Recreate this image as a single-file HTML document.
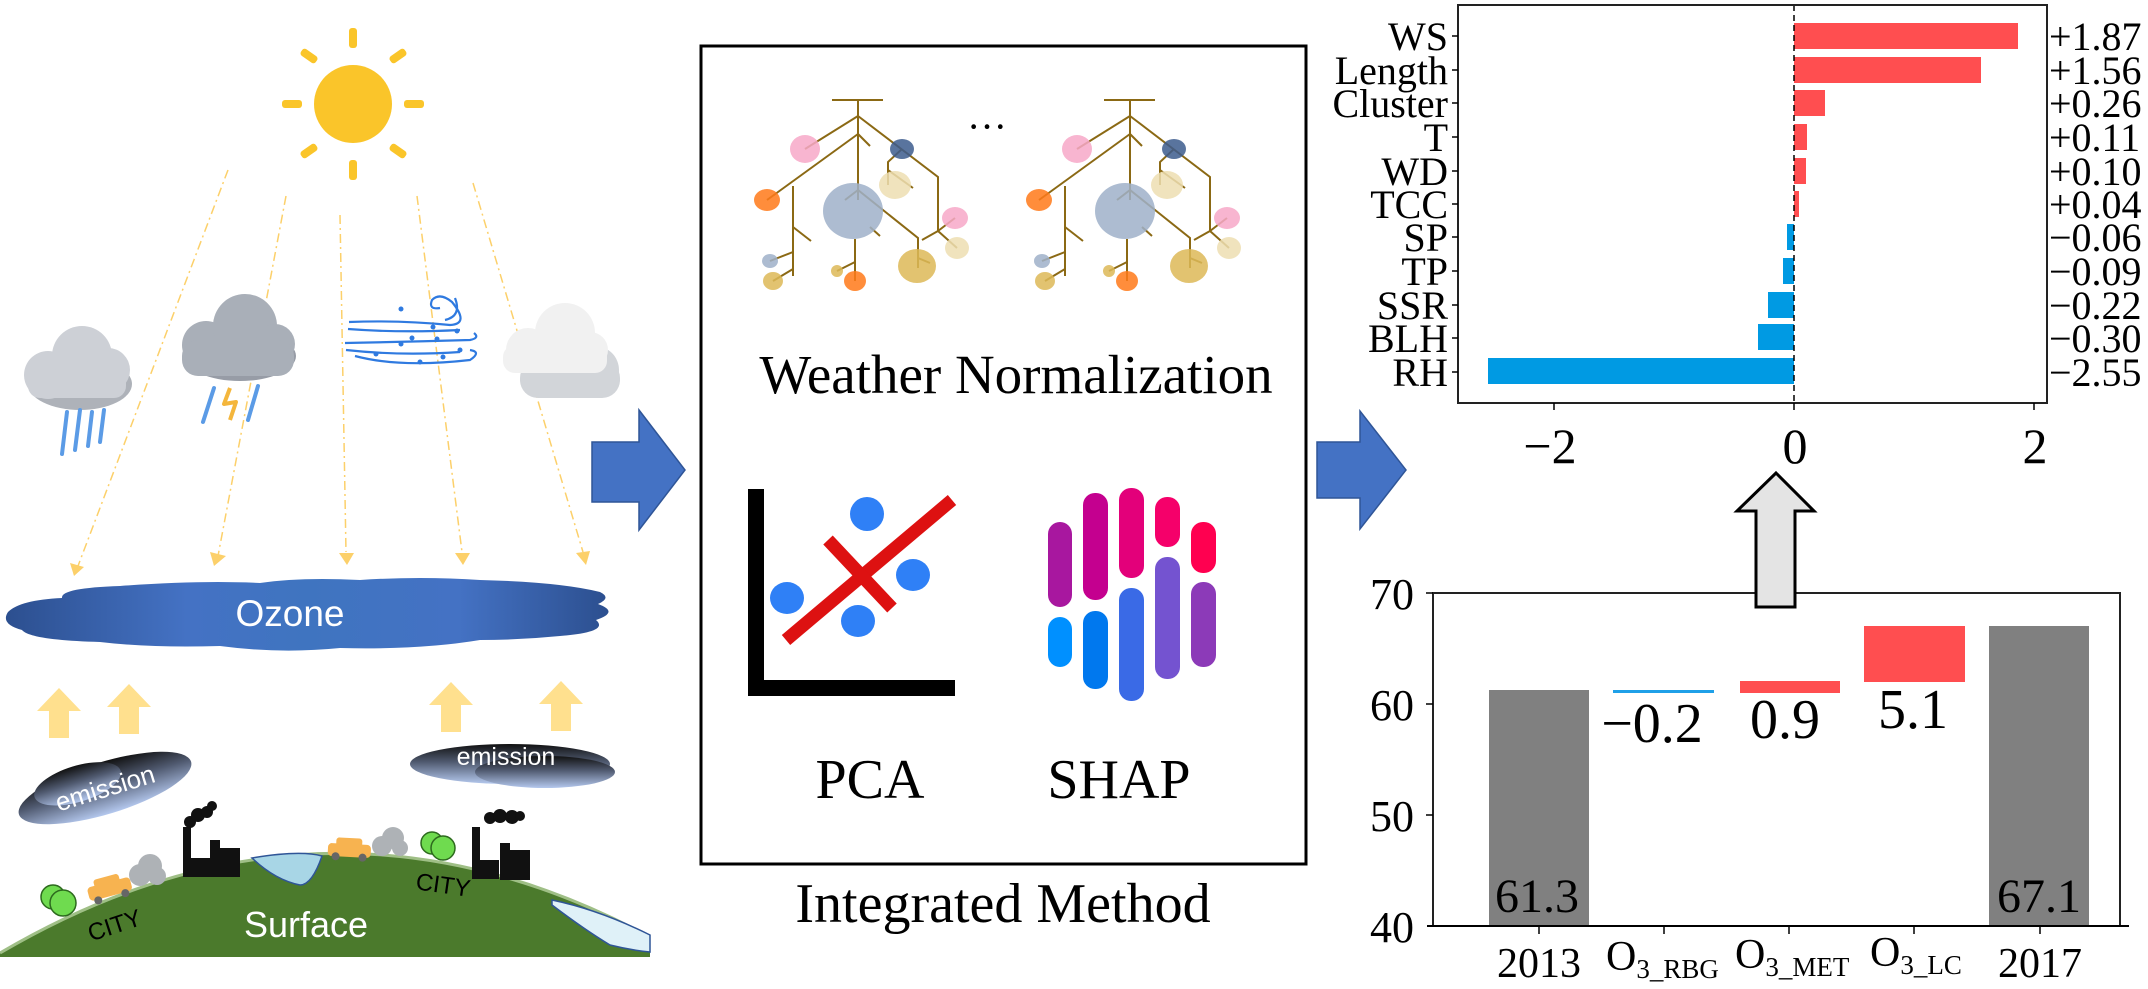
<!DOCTYPE html>
<html><head><meta charset="utf-8"><style>
html,body{margin:0;padding:0;background:#fff;}
svg{display:block;}
.s{font-family:"Liberation Serif",serif;fill:#000;}
.a{font-family:"Liberation Sans","DejaVu Sans",sans-serif;}
</style></head><body>
<svg width="2148" height="989" viewBox="0 0 2148 989" xmlns="http://www.w3.org/2000/svg">
<defs>
<linearGradient id="oz" x1="0" x2="1" y1="0" y2="0">
<stop offset="0" stop-color="#2c4f8f"/><stop offset="0.3" stop-color="#4472c4"/><stop offset="0.5" stop-color="#3f74c0"/><stop offset="0.75" stop-color="#4472c4"/><stop offset="1" stop-color="#2c4f8f"/></linearGradient>
<linearGradient id="em" x1="0" x2="0" y1="0" y2="1">
<stop offset="0" stop-color="#111"/><stop offset="0.45" stop-color="#505a70"/><stop offset="1" stop-color="#b4c8ee"/></linearGradient>
</defs>

<!-- sun -->
<g fill="#fac52a">
<circle cx="353" cy="104" r="39"/>
<rect x="349" y="28" width="8" height="20" rx="3"/>
<rect x="349" y="160" width="8" height="20" rx="3"/>
<rect x="282" y="100" width="20" height="8" rx="3"/>
<rect x="404" y="100" width="20" height="8" rx="3"/>
<rect x="300" y="52" width="18" height="8" rx="3" transform="rotate(35 309 56)"/>
<rect x="389" y="52" width="18" height="8" rx="3" transform="rotate(-35 398 56)"/>
<rect x="300" y="147" width="18" height="8" rx="3" transform="rotate(-35 309 151)"/>
<rect x="389" y="147" width="18" height="8" rx="3" transform="rotate(35 398 151)"/>
</g>
<g stroke="#fcd06a" stroke-width="1.5" stroke-dasharray="9 4 2 4" fill="none">
<line x1="228" y1="170" x2="78" y2="566"/>
<line x1="286" y1="196" x2="218" y2="556"/>
<line x1="340" y1="215" x2="346" y2="552"/>
<line x1="417" y1="196" x2="462" y2="552"/>
<line x1="473" y1="183" x2="583" y2="552"/>
</g>
<g fill="#fcd06a">
<polygon points="70,563 84,567 74,576"/>
<polygon points="210,552 226,556 214,566"/>
<polygon points="339,553 354,553 347,565"/>
<polygon points="455,553 470,553 463,565"/>
<polygon points="576,553 590,551 586,565"/>
</g>
<!-- rain cloud -->
<ellipse cx="80" cy="384" rx="52" ry="26" fill="#aeb2b9"/>
<g fill="#cdd0d6">
<circle cx="48" cy="375" r="24"/><circle cx="82" cy="356" r="30"/><circle cx="108" cy="370" r="22"/><rect x="28" y="370" width="98" height="28" rx="12"/>
</g>
<g stroke="#5b9be6" stroke-width="4" stroke-linecap="round">
<line x1="67" y1="412" x2="62" y2="454"/><line x1="80" y1="410" x2="75" y2="450"/><line x1="92" y1="412" x2="88" y2="446"/><line x1="104" y1="410" x2="100" y2="442"/>
</g>
<!-- storm cloud -->
<ellipse cx="240" cy="356" rx="56" ry="25" fill="#979ca6"/>
<g fill="#a9afb8">
<circle cx="206" cy="345" r="24"/><circle cx="245" cy="326" r="32"/><circle cx="275" cy="344" r="20"/><rect x="182" y="340" width="112" height="36" rx="16"/>
</g>
<g stroke="#5b9be6" stroke-width="4" stroke-linecap="round"><line x1="214" y1="388" x2="203" y2="422"/><line x1="258" y1="386" x2="248" y2="420"/></g>
<polyline points="230,388 224,404 236,402 230,420" fill="none" stroke="#f4b63c" stroke-width="4" stroke-linejoin="round"/>
<!-- wind -->
<g stroke="#2f7ae0" stroke-width="2.2" fill="none">
<path d="M349,322 Q400,320 450,325 Q470,324 452,302 Q440,292 432,300 Q428,310 440,308"/>
<path d="M348,329 Q400,333 460,330"/>
<path d="M345,343 Q400,342 470,340 Q480,338 474,333"/>
<path d="M346,350 Q400,356 460,352"/>
<path d="M355,356 Q400,368 470,360 Q482,352 470,350"/>
<path d="M445,320 Q462,316 455,298"/>
</g>
<g fill="#2f7ae0"><circle cx="401" cy="309" r="2.5"/><circle cx="433" cy="327" r="2.5"/><circle cx="412" cy="338" r="2.5"/><circle cx="401" cy="344" r="2.5"/><circle cx="437" cy="339" r="2.5"/><circle cx="457" cy="331" r="2.5"/><circle cx="460" cy="350" r="2.5"/><circle cx="443" cy="357" r="2.5"/><circle cx="420" cy="362" r="2.5"/><circle cx="376" cy="354" r="2.5"/></g>
<!-- white cloud -->
<g fill="#d2d5d9"><circle cx="560" cy="372" r="25"/><circle cx="595" cy="370" r="24"/><rect x="520" y="360" width="100" height="38" rx="18"/></g>
<g fill="#f1f1f1"><circle cx="528" cy="350" r="22"/><circle cx="565" cy="333" r="30"/><circle cx="590" cy="350" r="18"/><rect x="503" y="345" width="104" height="28" rx="12"/></g>
<!-- Ozone -->
<path fill="url(#oz)" d="M8,612 Q20,600 62,598 Q60,588 120,586 Q200,580 260,583 Q300,577 360,580 Q420,576 480,580 Q560,582 600,592 Q612,598 598,604 Q620,612 596,620 Q610,632 560,636 Q520,640 480,640 Q420,650 340,648 Q280,654 220,646 Q150,648 100,642 Q30,640 22,630 Q0,624 8,612 Z"/>
<text x="290" y="626" class="a" font-size="37" fill="#fff" text-anchor="middle">Ozone</text>
<!-- up arrows -->
<g fill="#ffe08e">
<polygon points="59,688 37,711 49,711 49,738 69,738 69,711 81,711"/>
<polygon points="129,684 107,707 119,707 119,734 139,734 139,707 151,707"/>
<polygon points="451,682 429,705 441,705 441,732 461,732 461,705 473,705"/>
<polygon points="561,681 539,704 551,704 551,731 571,731 571,704 583,704"/>
</g>
<!-- emission clouds -->
<g transform="rotate(-17 105 788)">
<ellipse cx="105" cy="788" rx="90" ry="26" fill="url(#em)"/>
<ellipse cx="80" cy="776" rx="45" ry="18" fill="url(#em)"/>
<text x="105" y="797" class="a" font-size="26" fill="#fff" text-anchor="middle">emission</text>
</g>
<ellipse cx="510" cy="764" rx="100" ry="20" fill="url(#em)"/>
<ellipse cx="545" cy="772" rx="70" ry="16" fill="url(#em)"/>
<text x="506" y="765" class="a" font-size="25" fill="#fff" text-anchor="middle">emission</text>
<!-- ground -->
<path d="M0,957 L0,953 Q325,762 650,937 L650,957 Z" fill="#4b7a2c"/>
<path d="M0,953 Q325,762 650,937" fill="none" stroke="#9fbf86" stroke-width="3"/>
<path d="M252,858 Q300,850 322,856 Q312,885 300,885 Q275,880 252,858 Z" fill="#a8d6e6" stroke="#2f5597" stroke-width="1.5"/>
<path d="M552,900 Q600,910 650,935 L650,952 Q630,950 610,945 Q585,930 552,905 Z" fill="#dff1f8" stroke="#2f5597" stroke-width="1.5"/>
<text x="306" y="937" class="a" font-size="36" fill="#fff" text-anchor="middle">Surface</text>
<text transform="translate(117,933) rotate(-18)" class="a" font-size="24" fill="#000" text-anchor="middle">CITY</text>
<text transform="translate(442,893) rotate(8)" class="a" font-size="24" fill="#000" text-anchor="middle">CITY</text>
<g fill="#111">
<rect x="183" y="827" width="8" height="50"/><rect x="190" y="858" width="20" height="19"/><rect x="210" y="840" width="10" height="37"/><rect x="220" y="848" width="20" height="29"/>
<circle cx="190" cy="822" r="6"/><circle cx="198" cy="815" r="7"/><circle cx="207" cy="812" r="6"/><circle cx="212" cy="806" r="5"/>
<rect x="472" y="827" width="8" height="52"/><rect x="479" y="860" width="20" height="19"/><rect x="500" y="843" width="10" height="37"/><rect x="510" y="850" width="20" height="30"/>
<circle cx="490" cy="818" r="6"/><circle cx="500" cy="816" r="7"/><circle cx="512" cy="817" r="7"/><circle cx="520" cy="816" r="5"/>
</g>
<g transform="rotate(-15 110 890)"><rect x="88" y="882" width="44" height="14" rx="4" fill="#f7b350"/><rect x="96" y="876" width="26" height="9" rx="3" fill="#f7b350"/><circle cx="96" cy="897" r="4" fill="#666"/><circle cx="124" cy="897" r="4" fill="#666"/></g>
<g transform="rotate(3 350 848)"><rect x="328" y="844" width="43" height="13" rx="4" fill="#f7b350"/><rect x="336" y="838" width="26" height="9" rx="3" fill="#f7b350"/><circle cx="336" cy="857" r="4" fill="#666"/><circle cx="363" cy="857" r="4" fill="#666"/></g>
<g fill="#aeb2b6"><circle cx="140" cy="875" r="11"/><circle cx="150" cy="866" r="12"/><circle cx="157" cy="876" r="9"/><circle cx="382" cy="846" r="10"/><circle cx="393" cy="838" r="11"/><circle cx="400" cy="848" r="8"/></g>
<g fill="#6fdb4f" stroke="#2d6a1e" stroke-width="1.5"><circle cx="53" cy="897" r="12"/><circle cx="63" cy="903" r="13"/><circle cx="432" cy="843" r="11"/><circle cx="443" cy="848" r="12"/></g>
<polygon points="592,442 639,442 639,410 685,470 639,530 639,502 592,502" fill="#4472c4" stroke="#2f5597" stroke-width="1.5"/>

<!-- MIDDLE BOX -->
<rect x="701" y="46" width="605" height="818" fill="none" stroke="#000" stroke-width="3"/>
<g id="tree">
<g stroke="#8b6914" stroke-width="2" fill="none">
<line x1="832" y1="100" x2="883" y2="100"/><line x1="858" y1="100" x2="858" y2="200"/>
<line x1="858" y1="116" x2="805" y2="149"/><line x1="858" y1="134" x2="767" y2="200"/><line x1="858" y1="134" x2="870" y2="146"/>
<polyline points="858,116 938,177 938,231"/><polyline points="902,149 888,162 888,185"/><line x1="888" y1="170" x2="913" y2="188"/>
<polyline points="845,200 858,190 918,238 918,268"/><line x1="870" y1="227" x2="880" y2="236"/>
<line x1="855" y1="239" x2="855" y2="281"/><line x1="855" y1="262" x2="837" y2="271"/>
<line x1="793" y1="186" x2="793" y2="276"/><line x1="793" y1="227" x2="811" y2="241"/><line x1="793" y1="252" x2="770" y2="261"/><line x1="793" y1="269" x2="773" y2="281"/>
<line x1="938" y1="231" x2="955" y2="218"/><line x1="938" y1="231" x2="922" y2="240"/><line x1="938" y1="231" x2="957" y2="248"/><line x1="918" y1="258" x2="930" y2="263"/>
</g>
<g opacity="0.85">
<ellipse cx="853" cy="211" rx="30" ry="28" fill="#9fb1c9"/>
<ellipse cx="805" cy="149" rx="15" ry="14" fill="#f7a9c8"/>
<ellipse cx="767" cy="200" rx="13" ry="11" fill="#ff7a1a"/>
<ellipse cx="902" cy="149" rx="12" ry="10" fill="#3d5c8e"/>
<ellipse cx="895" cy="185" rx="16" ry="14" fill="#eedfb2"/>
<ellipse cx="955" cy="218" rx="13" ry="11" fill="#f7a9c8"/>
<ellipse cx="957" cy="248" rx="12" ry="11" fill="#eedfb2"/>
<ellipse cx="917" cy="266" rx="19" ry="17" fill="#ddb958"/>
<ellipse cx="770" cy="261" rx="8" ry="7" fill="#9fb1c9"/>
<ellipse cx="773" cy="281" rx="10" ry="9" fill="#ddb958"/>
<ellipse cx="837" cy="271" rx="6" ry="6" fill="#ddb958"/>
<ellipse cx="855" cy="281" rx="11" ry="10" fill="#ff7a1a"/>
</g>
</g>
<use href="#tree" transform="translate(272,0)"/>
<text x="987" y="140" class="s" font-size="40" text-anchor="middle">···</text>
<text x="1016" y="393" class="s" font-size="55" text-anchor="middle">Weather Normalization</text>
<rect x="748" y="489" width="16" height="207" fill="#000"/><rect x="748" y="680" width="207" height="16" fill="#000"/>
<line x1="786" y1="640" x2="952" y2="500" stroke="#dd1111" stroke-width="13"/>
<line x1="828" y1="540" x2="892" y2="608" stroke="#dd1111" stroke-width="13"/>
<g fill="#2f80f6"><ellipse cx="867" cy="514" rx="17" ry="17"/><ellipse cx="787" cy="598" rx="17" ry="16"/><ellipse cx="913" cy="575" rx="17" ry="16"/><ellipse cx="858" cy="621" rx="17" ry="16"/></g>
<text x="870" y="798" class="s" font-size="56" text-anchor="middle">PCA</text>
<rect x="1048" y="522" width="24" height="85" rx="12" fill="#a8179f"/><rect x="1048" y="617" width="24" height="50" rx="12" fill="#0090ff"/>
<rect x="1083" y="493" width="25" height="107" rx="12" fill="#c4008f"/><rect x="1083" y="611" width="25" height="78" rx="12" fill="#0078ee"/>
<rect x="1119" y="488" width="25" height="90" rx="12" fill="#e3007a"/><rect x="1119" y="588" width="25" height="113" rx="12" fill="#3a6ae6"/>
<rect x="1155" y="497" width="25" height="50" rx="12" fill="#f5006a"/><rect x="1155" y="557" width="25" height="122" rx="12" fill="#7453d0"/>
<rect x="1191" y="522" width="25" height="51" rx="12" fill="#ff0050"/><rect x="1191" y="582" width="25" height="85" rx="12" fill="#8c3ab8"/>
<text x="1119" y="798" class="s" font-size="56" text-anchor="middle">SHAP</text>
<text x="1003" y="922" class="s" font-size="56" text-anchor="middle">Integrated Method</text>
<polygon points="1317,442 1360,442 1360,411 1406,470 1360,529 1360,498 1317,498" fill="#4472c4" stroke="#2f5597" stroke-width="1.5"/>

<!-- TOP-RIGHT -->
<rect x="1794" y="23" width="224" height="26" fill="#ff4e50"/>
<rect x="1794" y="57" width="187" height="26" fill="#ff4e50"/>
<rect x="1794" y="90" width="31" height="26" fill="#ff4e50"/>
<rect x="1794" y="124" width="13" height="26" fill="#ff4e50"/>
<rect x="1794" y="158" width="12" height="26" fill="#ff4e50"/>
<rect x="1794" y="191" width="5" height="26" fill="#ff4e50"/>
<rect x="1787" y="224" width="7" height="26" fill="#009ae3"/>
<rect x="1783" y="258" width="11" height="26" fill="#009ae3"/>
<rect x="1768" y="292" width="26" height="26" fill="#009ae3"/>
<rect x="1758" y="324" width="36" height="26" fill="#009ae3"/>
<rect x="1488" y="358" width="306" height="26" fill="#009ae3"/>
<line x1="1794" y1="5" x2="1794" y2="403" stroke="#000" stroke-width="1.5" stroke-dasharray="6 4"/>
<rect x="1458" y="5" width="589" height="398" fill="none" stroke="#222" stroke-width="2"/>
<g stroke="#000" stroke-width="1.5">
<line x1="1452" y1="36" x2="1458" y2="36"/><line x1="1452" y1="70" x2="1458" y2="70"/><line x1="1452" y1="103" x2="1458" y2="103"/><line x1="1452" y1="137" x2="1458" y2="137"/><line x1="1452" y1="171" x2="1458" y2="171"/><line x1="1452" y1="204" x2="1458" y2="204"/><line x1="1452" y1="237" x2="1458" y2="237"/><line x1="1452" y1="271" x2="1458" y2="271"/><line x1="1452" y1="305" x2="1458" y2="305"/><line x1="1452" y1="338" x2="1458" y2="338"/><line x1="1452" y1="372" x2="1458" y2="372"/>
<line x1="1554" y1="403" x2="1554" y2="410"/><line x1="1794" y1="403" x2="1794" y2="410"/><line x1="2034" y1="403" x2="2034" y2="410"/>
</g>
<g class="s" font-size="40" text-anchor="end">
<text x="1448" y="50">WS</text><text x="1448" y="84">Length</text><text x="1448" y="117">Cluster</text><text x="1448" y="151">T</text><text x="1448" y="185">WD</text><text x="1448" y="218">TCC</text><text x="1448" y="251">SP</text><text x="1448" y="285">TP</text><text x="1448" y="319">SSR</text><text x="1448" y="352">BLH</text><text x="1448" y="386">RH</text>
</g>
<g class="s" font-size="40">
<text x="2049" y="50">+1.87</text><text x="2049" y="84">+1.56</text><text x="2049" y="117">+0.26</text><text x="2049" y="151">+0.11</text><text x="2049" y="185">+0.10</text><text x="2049" y="218">+0.04</text><text x="2049" y="251">−0.06</text><text x="2049" y="285">−0.09</text><text x="2049" y="319">−0.22</text><text x="2049" y="352">−0.30</text><text x="2049" y="386">−2.55</text>
</g>
<g class="s" font-size="50" text-anchor="middle">
<text x="1550" y="463">−2</text><text x="1795" y="463">0</text><text x="2035" y="463">2</text>
</g>

<!-- BOTTOM-RIGHT -->
<rect x="1489" y="690" width="100" height="236" fill="#808080"/>
<rect x="1613" y="690" width="101" height="3" fill="#1fa0e8"/>
<rect x="1740" y="681" width="100" height="12" fill="#ff4e50"/>
<rect x="1864" y="626" width="101" height="56" fill="#ff4e50"/>
<rect x="1989" y="626" width="100" height="300" fill="#808080"/>
<polyline points="1433,926 1433,593 2120,593 2120,926" fill="none" stroke="#222" stroke-width="2"/>
<line x1="1427" y1="926" x2="2129" y2="926" stroke="#000" stroke-width="2"/>
<g stroke="#000" stroke-width="1.5">
<line x1="1426" y1="593" x2="1433" y2="593"/><line x1="1426" y1="704" x2="1433" y2="704"/><line x1="1426" y1="815" x2="1433" y2="815"/>
<line x1="1539" y1="926" x2="1539" y2="934"/><line x1="1664" y1="926" x2="1664" y2="934"/><line x1="1789" y1="926" x2="1789" y2="934"/><line x1="1914" y1="926" x2="1914" y2="934"/><line x1="2040" y1="926" x2="2040" y2="934"/>
</g>
<g class="s" font-size="44" text-anchor="end">
<text x="1414" y="609">70</text><text x="1414" y="720">60</text><text x="1414" y="831">50</text><text x="1414" y="942">40</text>
</g>
<g class="s" font-size="56" text-anchor="middle">
<text x="1652" y="742">−0.2</text><text x="1785" y="738">0.9</text><text x="1913" y="728">5.1</text>
</g>
<g class="s" font-size="48" text-anchor="middle">
<text x="1537" y="912">61.3</text><text x="2039" y="912">67.1</text>
</g>
<g class="s" font-size="42">
<text x="1539" y="977" text-anchor="middle">2013</text>
<text x="2040" y="977" text-anchor="middle">2017</text>
<text x="1606" y="970">O<tspan font-size="27" dy="8">3_RBG</tspan></text>
<text x="1735" y="968">O<tspan font-size="27" dy="8">3_MET</tspan></text>
<text x="1870" y="966">O<tspan font-size="27" dy="8">3_LC</tspan></text>
</g>
<polygon points="1776,473 1814,511 1795,511 1795,607 1756,607 1756,511 1737,511" fill="#e4e4e4" stroke="#000" stroke-width="3"/>
</svg>
</body></html>
